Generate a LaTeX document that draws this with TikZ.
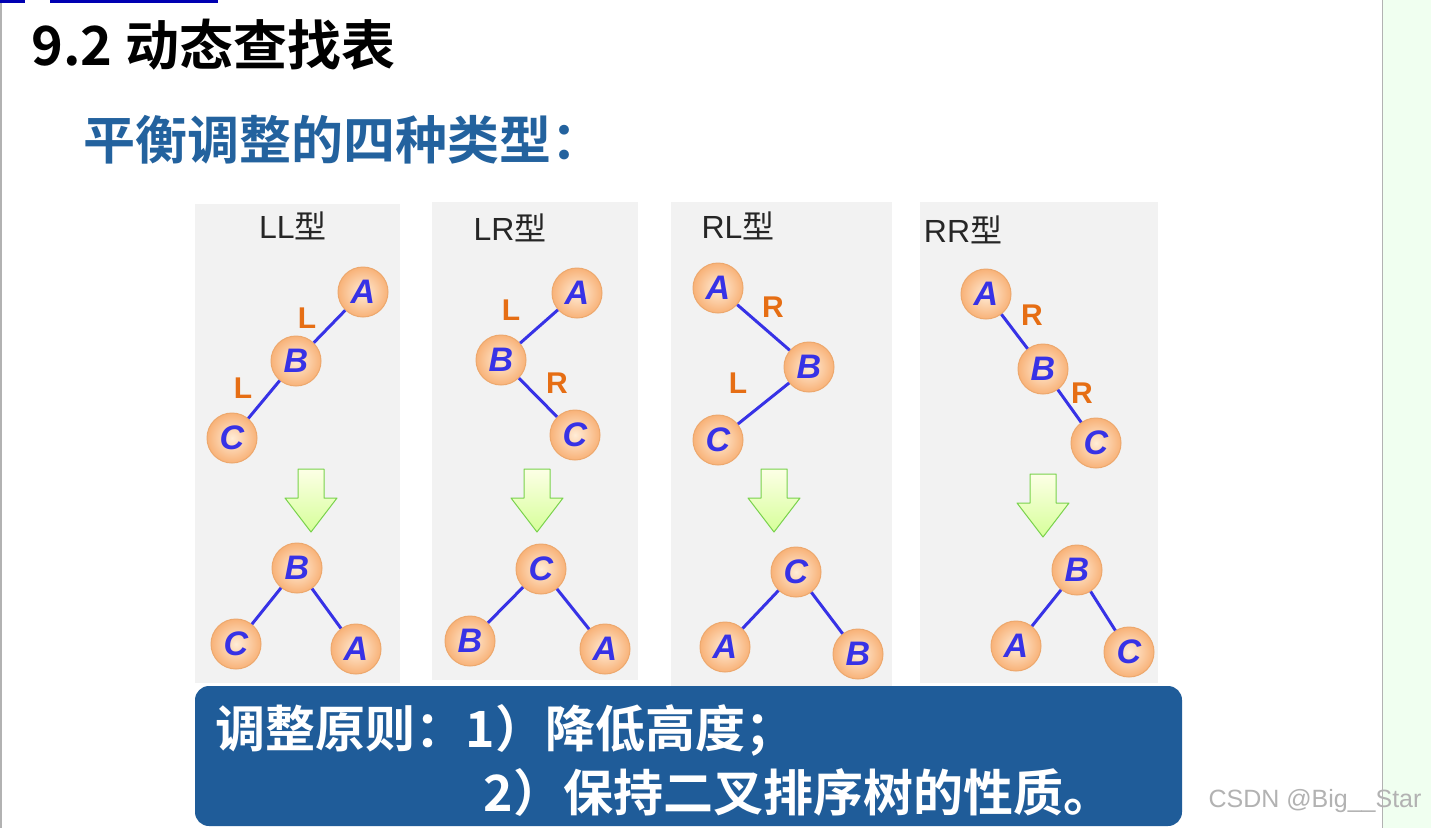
\documentclass[tikz,border=0pt]{standalone}
\usepackage{fontspec}
\setmainfont{Noto Sans CJK SC}
\newfontfamily\cjk{Noto Sans CJK SC}
\newfontfamily\cjkb{Noto Sans CJK SC Bold}
\newfontfamily\lat{Liberation Sans}
\definecolor{panel}{RGB}{242,242,242}
\definecolor{nblue}{RGB}{55,50,230}
\definecolor{lorange}{RGB}{230,110,20}
\definecolor{tblue}{RGB}{35,98,158}
\definecolor{boxblue}{RGB}{31,92,153}
\definecolor{cin}{RGB}{255,236,215}
\definecolor{cout}{RGB}{248,178,120}
\tikzset{
 nd/.style={circle,draw=cout!80!brown,line width=1pt,inner color=cin,outer color=cout,minimum size=50pt,inner sep=0pt,font=\lat\bfseries\itshape\fontsize{34}{34}\selectfont,text=nblue},
 ed/.style={draw=nblue,line width=3pt},
 lb/.style={font=\lat\bfseries\fontsize{30}{30}\selectfont,text=lorange},
 ttl/.style={font=\lat\fontsize{32}{32}\selectfont,text=black!85},
 pnl/.style={fill=panel,draw=none},
 dn/.style={draw=green!50!olive!70,line width=1pt,top color=green!10!yellow!10,bottom color=green!40!yellow!40,line join=round}
}
\newcommand\dnarrow[2]{\draw[dn,shift={(#1,#2)}] (-13,-31) -- (13,-31) -- (13,-2) -- (26,-2) -- (0,32) -- (-26,-2) -- (-13,-2) -- cycle;}
\begin{document}
\begin{tikzpicture}[x=1pt,y=-1pt]
\useasboundingbox (0,0) rectangle (1431,828);
\fill[white] (0,0) rectangle (1431,828);
\fill[green!6!white] (1382,0) rectangle (1431,828);
\draw[gray!60] (1382,0) -- (1382,828);
\draw[gray!60,line width=2pt] (1,0) -- (1,828);
\fill[blue!70!black] (0,0) rectangle (25,3);
\fill[blue!70!black] (50,0) rectangle (218,3);
\node[anchor=west,font=\cjkb\fontsize{54}{54}\selectfont] (t1) at (28,45) {9.2 动态查找表};
\node[anchor=west,font=\cjkb\fontsize{52}{52}\selectfont,text=tblue] (t2) at (80,140) {平衡调整的四种类型：};
% panels
\fill[pnl] (195,204) rectangle (400,683);
\fill[pnl] (432,202) rectangle (638,680);
\fill[pnl] (671,202) rectangle (892,686);
\fill[pnl] (920,202) rectangle (1158,683);
% LL
\node[ttl] (h1) at (293,226) {LL{\cjk 型}};
\node[nd] (a1) at (363,292) {A};
\node[nd] (b1) at (296,361) {B};
\node[nd] (c1) at (232,438) {C};
\draw[ed] (a1)--(b1); \draw[ed] (b1)--(c1);
\node[lb] (l1) at (307,318) {L};
\node[lb] (l2) at (243,388) {L};
\dnarrow{311}{500}
\node[nd] (bb1) at (297,568) {B};
\node[nd] (cc1) at (236,644) {C};
\node[nd] (aa1) at (356,649) {A};
\draw[ed] (bb1)--(cc1); \draw[ed] (bb1)--(aa1);
% LR
\node[ttl] (h2) at (510,228) {LR{\cjk 型}};
\node[nd] (a2) at (577,293) {A};
\node[nd] (b2) at (501,360) {B};
\node[nd] (c2) at (575,435) {C};
\draw[ed] (a2)--(b2); \draw[ed] (b2)--(c2);
\node[lb] (l3) at (511,310) {L};
\node[lb] (l4) at (557,383) {R};
\dnarrow{537}{500}
\node[nd] (cc2) at (541,569) {C};
\node[nd] (bb2) at (470,641) {B};
\node[nd] (aa2) at (605,649) {A};
\draw[ed] (cc2)--(bb2); \draw[ed] (cc2)--(aa2);
% RL
\node[ttl] (h3) at (738,226) {RL{\cjk 型}};
\node[nd] (a3) at (718,288) {A};
\node[nd] (b3) at (809,367) {B};
\node[nd] (c3) at (718,440) {C};
\draw[ed] (a3)--(b3); \draw[ed] (b3)--(c3);
\node[lb] (l5) at (773,307) {R};
\node[lb] (l6) at (738,383) {L};
\dnarrow{774}{500}
\node[nd] (cc3) at (796,572) {C};
\node[nd] (aa3) at (725,647) {A};
\node[nd] (bb3) at (858,654) {B};
\draw[ed] (cc3)--(aa3); \draw[ed] (cc3)--(bb3);
% RR
\node[ttl] (h4) at (963,230) {RR{\cjk 型}};
\node[nd] (a4) at (986,294) {A};
\node[nd] (b4) at (1043,369) {B};
\node[nd] (c4) at (1096,443) {C};
\draw[ed] (a4)--(b4); \draw[ed] (b4)--(c4);
\node[lb] (l7) at (1032,315) {R};
\node[lb] (l8) at (1082,393) {R};
\dnarrow{1043}{505}
\node[nd] (bb4) at (1077,570) {B};
\node[nd] (aa4) at (1016,646) {A};
\node[nd] (cc4) at (1129,652) {C};
\draw[ed] (bb4)--(aa4); \draw[ed] (bb4)--(cc4);
% bottom box
\fill[boxblue,rounded corners=14pt] (195,686) rectangle (1182,826);
\node[anchor=west,font=\cjkb\fontsize{50}{50}\selectfont,text=white] (p1) at (212,730) {调整原则：1）降低高度；};
\node[anchor=west,font=\cjkb\fontsize{50}{50}\selectfont,text=white] (p2) at (480,792) {2）保持二叉排序树的性质。};
\node[anchor=west,font=\lat\fontsize{25}{25}\selectfont,text=gray!60] (wm) at (1205,801) {CSDN @Big\_\_Star};
\end{tikzpicture}
\end{document}
